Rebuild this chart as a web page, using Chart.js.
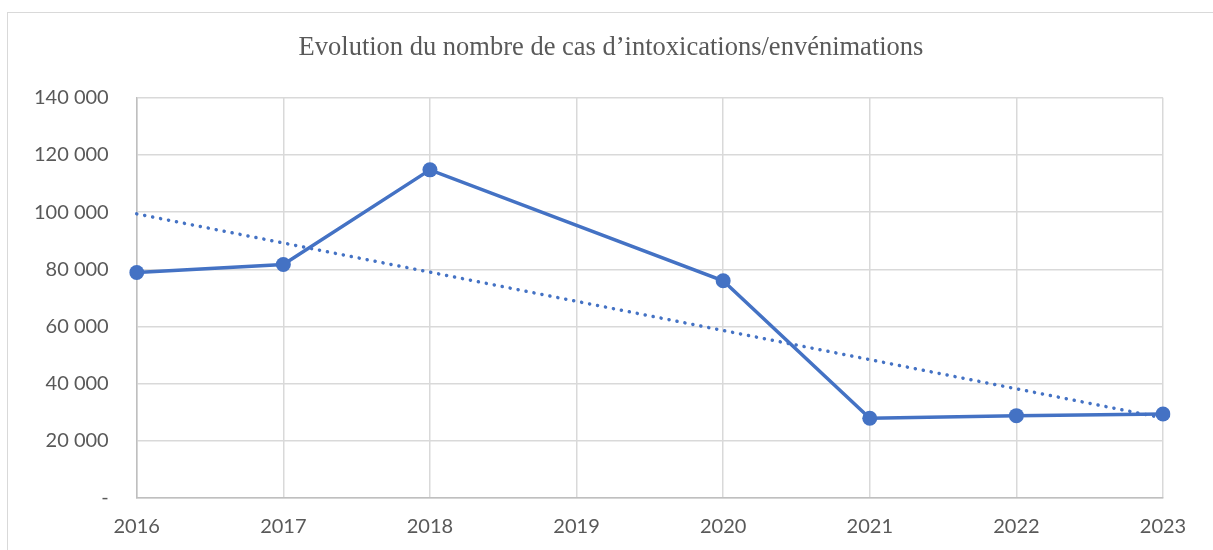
<!DOCTYPE html>
<html>
<head>
<meta charset="utf-8">
<script src="https://cdn.jsdelivr.net/npm/chart.js@4"></script>
<style>
  body { margin: 0; background: #fff; }
  #wrap { position: relative; width: 1213px; height: 550px; overflow: hidden; }
  #frame { position: absolute; left: 7px; top: 12px; width: 1300px; height: 600px; border: 1.5px solid #d9d9d9; }
  canvas { position: absolute; left: 0; top: 0; }
</style>
</head>
<body>
<div id="wrap">
  <div id="frame"></div>
  <canvas id="chart" width="1213" height="570"></canvas>
</div>
<script>
const years = ['2016', '2017', '2018', '2019', '2020', '2021', '2022', '2023'];
const cases = [78900, 81700, 114800, null, 76000, 27900, 28800, 29400];
// trend line end points
const trend = [99400, null, null, null, null, null, null, 28000];

const blue = '#4472C4';
const textGrey = '#595959';

// the title sits centred over the whole frame, not over the padded box
const shiftTitle = {
  id: 'shiftTitle',
  afterLayout(chart) {
    if (chart.titleBlock) chart.titleBlock.left += 53;
  }
};

const ctx = document.getElementById('chart').getContext('2d');
new Chart(ctx, {
  type: 'line',
  data: {
    labels: years,
    datasets: [
      {
        label: 'Cas',
        data: cases,
        borderColor: blue,
        backgroundColor: blue,
        borderWidth: 3.5,
        pointRadius: 7.5,
        pointBackgroundColor: blue,
        pointBorderWidth: 0,
        spanGaps: true,
        tension: 0
      },
      {
        label: 'Tendance',
        data: trend,
        borderColor: blue,
        borderWidth: 3.5,
        borderDash: [0.1, 8],
        borderCapStyle: 'round',
        pointRadius: 0,
        spanGaps: true,
        tension: 0
      }
    ]
  },
  options: {
    responsive: false,
    animation: false,
    layout: { padding: { left: 6, right: 50, top: 0, bottom: 14 } },
    plugins: {
      legend: { display: false },
      tooltip: { enabled: false },
      title: {
        display: true,
        text: 'Evolution du nombre de cas d\u2019intoxications/envénimations',
        color: textGrey,
        font: { family: '"Liberation Serif", "Times New Roman", serif', size: 26.5, weight: 'normal' },
        padding: { top: 32, bottom: 34 }
      }
    },
    scales: {
      x: {
        grid: { color: '#d9d9d9', lineWidth: 1.5, drawTicks: false },
        border: { color: '#bfbfbf', width: 1.5 },
        ticks: {
          color: textGrey,
          padding: 17,
          maxRotation: 0,
          font: { family: 'Lato, sans-serif', size: 20 }
        }
      },
      y: {
        min: 0,
        max: 140000,
        grid: { color: '#d9d9d9', lineWidth: 1.5, drawTicks: false },
        border: { color: '#bfbfbf', width: 1.5 },
        ticks: {
          stepSize: 20000,
          color: textGrey,
          padding: 28,
          font: { family: 'Lato, sans-serif', size: 20 },
          callback: v => v === 0 ? '-' : v.toLocaleString('en-US').replace(/,/g, ' ')
        }
      }
    }
  },
  plugins: [shiftTitle]
});
</script>
</body>
</html>
